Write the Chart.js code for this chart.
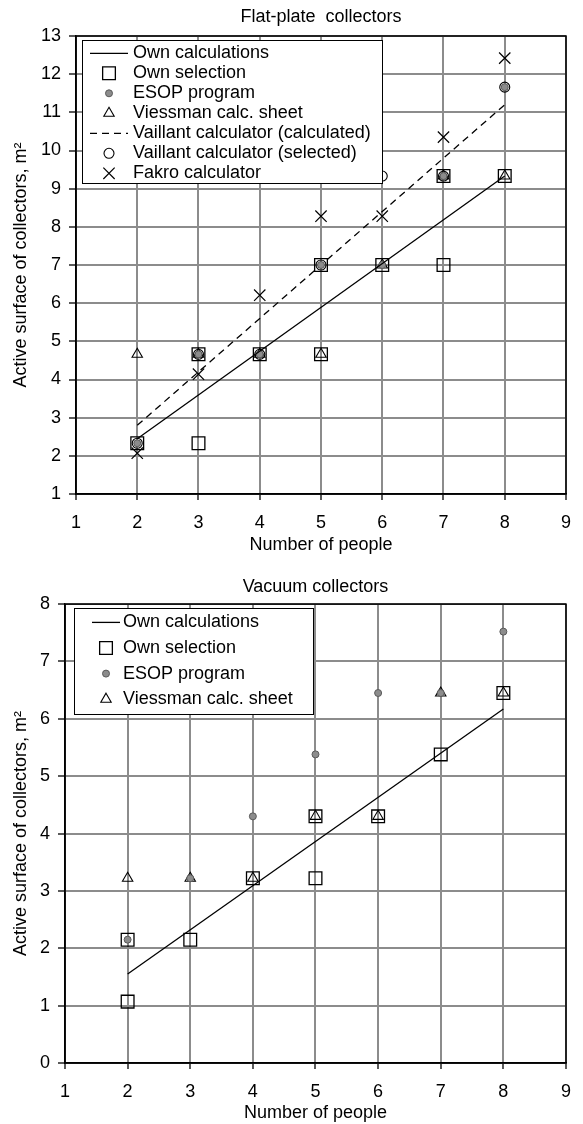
<!DOCTYPE html>
<html>
<head>
<meta charset="utf-8">
<script src="https://cdn.jsdelivr.net/npm/chart.js"></script>
<style>
  body { margin: 0; background: #fff; }
  canvas { position: absolute; left: 0; }
  #flat { top: 0; }
  #vacuum { top: 565px; }
</style>
</head>
<body>
<canvas id="flat" width="583" height="565"></canvas>
<canvas id="vacuum" width="583" height="559"></canvas>
<script>
// Flat-plate collectors
const flatPeople = [2, 3, 4, 5, 6, 7, 8];
const flatEsop = [2.33, 4.66, 4.66, 7.0, 7.0, 9.33, 11.66];
const flatViessman = [4.66, 4.66, 4.66, 4.66, 7.0, 9.33, 9.33];
const flatVaillantSel = [2.33, 4.66, 4.66, 7.0, 9.33, 9.33, 11.66];
const flatFakro = [2.07, 4.14, 6.21, 8.28, 8.28, 10.35, 12.42];
const flatOwnSelX = [2, 3, 3, 4, 5, 5, 6, 7, 7, 8];
const flatOwnSelY = [2.33, 2.33, 4.66, 4.66, 4.66, 7.0, 7.0, 7.0, 9.33, 9.33];
const flatOwnCalcX = [2, 8];
const flatOwnCalcY = [2.45, 9.33];
const flatVaillantCalcX = [2, 8];
const flatVaillantCalcY = [2.8, 11.2];

// Vacuum collectors
const vacPeople = [2, 3, 4, 5, 6, 7, 8];
const vacEsop = [2.15, 3.22, 4.3, 5.38, 6.45, 6.45, 7.52];
const vacViessman = [3.22, 3.22, 3.22, 4.3, 4.3, 6.45, 6.45];
const vacOwnSelX = [2, 2, 3, 4, 5, 5, 6, 7, 8];
const vacOwnSelY = [1.07, 2.15, 2.15, 3.22, 3.22, 4.3, 4.3, 5.38, 6.45];
const vacOwnCalcX = [2, 8];
const vacOwnCalcY = [1.55, 6.17];

const FONT = '"Liberation Sans", Arial, sans-serif';

function pts(xs, ys) {
    return xs.map((x, i) => ({ x: x, y: ys[i] }));
}

function lineSet(label, xs, ys, dash) {
    return {
        label: label, data: pts(xs, ys), showLine: true, pointRadius: 0,
        borderColor: '#000', borderWidth: 1.3, borderDash: dash || [], backgroundColor: '#000'
    };
}

function markSet(label, xs, ys, style, radius, fill, border, width) {
    return {
        label: label, data: pts(xs, ys), showLine: false,
        pointStyle: style, pointRadius: radius, pointHoverRadius: radius,
        backgroundColor: fill, borderColor: border, borderWidth: width
    };
}

// legend drawn inside the plot, in a white framed box
const boxLegend = {
    id: 'boxLegend',
    afterDatasetsDraw(chart, args, opts) {
        const ctx = chart.ctx, a = chart.chartArea;
        const x0 = Math.round(a.left + opts.dx), y0 = Math.round(a.top + opts.dy);
        ctx.save();
        ctx.fillStyle = '#fff';
        ctx.fillRect(x0, y0, opts.width, opts.height);
        ctx.strokeStyle = '#000';
        ctx.lineWidth = 1;
        ctx.strokeRect(x0 + 0.5, y0 + 0.5, opts.width, opts.height);
        ctx.font = '18px ' + FONT;
        ctx.textBaseline = 'middle';
        ctx.textAlign = 'left';
        chart.data.datasets.forEach((ds, i) => {
            const y = y0 + opts.firstRow + i * opts.rowHeight;
            const mx = x0 + opts.markX;
            ctx.strokeStyle = ds.borderColor;
            ctx.lineWidth = ds.borderWidth;
            if (ds.showLine) {
                ctx.setLineDash(ds.borderDash);
                ctx.beginPath();
                ctx.moveTo(mx - opts.lineLen / 2, y);
                ctx.lineTo(mx + opts.lineLen / 2, y);
                ctx.stroke();
                ctx.setLineDash([]);
            } else {
                ctx.fillStyle = ds.backgroundColor;
                Chart.helpers.drawPoint(ctx, {
                    pointStyle: ds.pointStyle, radius: ds.pointRadius, rotation: 0, borderWidth: ds.borderWidth
                }, mx, y);
            }
            ctx.fillStyle = '#000';
            ctx.fillText(ds.label, x0 + opts.textX, y);
        });
        ctx.restore();
    }
};

// black frame round the plot area
const plotFrame = {
    id: 'plotFrame',
    beforeDatasetsDraw(chart) {
        const ctx = chart.ctx, a = chart.chartArea;
        ctx.save();
        ctx.strokeStyle = '#000';
        ctx.lineWidth = 1.5;
        ctx.strokeRect(a.left, a.top, a.right - a.left, a.bottom - a.top);
        ctx.restore();
    }
};

function makeChart(id, cfg) {
    return new Chart(document.getElementById(id), {
        type: 'scatter',
        data: { datasets: cfg.datasets },
        options: {
            responsive: false,
            animation: false,
            devicePixelRatio: 1,
            events: [],
            layout: { padding: { left: 0, right: 6, top: 0, bottom: 0 } },
            plugins: {
                legend: { display: false },
                tooltip: { enabled: false },
                title: {
                    display: true, text: cfg.title, fullSize: false, color: '#000',
                    font: { family: FONT, size: 18, weight: 'normal' },
                    padding: cfg.titlePad
                },
                boxLegend: cfg.legend
            },
            scales: {
                x: {
                    type: 'linear', min: 1, max: 9,
                    ticks: { stepSize: 1, color: '#000', padding: 12, font: { family: FONT, size: 18 } },
                    grid: { color: '#8c8c8c', lineWidth: 2, tickColor: '#000', tickLength: 6, tickWidth: 1.3 },
                    border: { color: '#000', width: 1.5 },
                    title: {
                        display: true, text: 'Number of people', color: '#000',
                        font: { family: FONT, size: 18 }, padding: { top: 0, bottom: cfg.xTitlePad }
                    },
                    afterFit(s) { s.height = cfg.xHeight; }
                },
                y: {
                    min: cfg.yMin, max: cfg.yMax,
                    ticks: { stepSize: 1, color: '#000', padding: 8, font: { family: FONT, size: 18 } },
                    grid: { color: '#8c8c8c', lineWidth: 2, tickColor: '#000', tickLength: 7, tickWidth: 1.3 },
                    border: { color: '#000', width: 1.5 },
                    title: {
                        display: true, text: 'Active surface of collectors, m²', color: '#000',
                        font: { family: FONT, size: 18 }, padding: { top: 10, bottom: 0 }
                    },
                    afterFit(s) { s.width = cfg.yWidth; }
                }
            }
        },
        plugins: [plotFrame, boxLegend]
    });
}

const ownSelStyle = ['rect', 9, 'rgba(0,0,0,0)', '#000', 1.3];
const esopStyle = ['circle', 3.5, '#8c8c8c', '#5a5a5a', 1];
const viessStyle = ['triangle', 6, 'rgba(0,0,0,0)', '#000', 1.1];

makeChart('flat', {
    title: 'Flat-plate  collectors',
    titlePad: { top: 6.5, bottom: 7.9 },
    yMin: 1, yMax: 13, yWidth: 76,
    xHeight: 71, xTitlePad: 9,
    legend: { dx: 6, dy: 4, width: 300, height: 143, firstRow: 13.3, rowHeight: 20, markX: 27, lineLen: 38, textX: 51 },
    datasets: [
        lineSet('Own calculations', flatOwnCalcX, flatOwnCalcY),
        markSet('Own selection', flatOwnSelX, flatOwnSelY, ...ownSelStyle),
        markSet('ESOP program', flatPeople, flatEsop, ...esopStyle),
        markSet('Viessman calc. sheet', flatPeople, flatViessman, ...viessStyle),
        lineSet('Vaillant calculator (calculated)', flatVaillantCalcX, flatVaillantCalcY, [7, 5]),
        markSet('Vaillant calculator (selected)', flatPeople, flatVaillantSel, 'circle', 5, 'rgba(0,0,0,0)', '#000', 1.1),
        markSet('Fakro calculator', flatPeople, flatFakro, 'crossRot', 8, '#000', '#000', 1.2)
    ]
});

makeChart('vacuum', {
    title: 'Vacuum collectors',
    titlePad: { top: 11, bottom: 6.5 },
    yMin: 0, yMax: 8, yWidth: 65,
    xHeight: 61, xTitlePad: 0,
    legend: { dx: 9, dy: 4, width: 239, height: 106, firstRow: 14.4, rowHeight: 25.6, markX: 32, lineLen: 28, textX: 49 },
    datasets: [
        lineSet('Own calculations', vacOwnCalcX, vacOwnCalcY),
        markSet('Own selection', vacOwnSelX, vacOwnSelY, ...ownSelStyle),
        markSet('ESOP program', vacPeople, vacEsop, ...esopStyle),
        markSet('Viessman calc. sheet', vacPeople, vacViessman, ...viessStyle)
    ]
});
</script>
</body>
</html>
